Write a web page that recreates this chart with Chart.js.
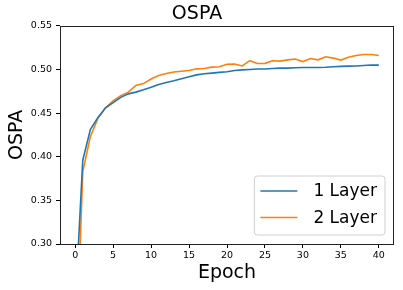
<!DOCTYPE html>
<html>
<head>
<meta charset="utf-8">
<script src="https://cdn.jsdelivr.net/npm/chart.js@4/dist/chart.umd.min.js"></script>
<style>
html,body{margin:0;padding:0;background:#fff;}
canvas{display:block;}
</style>
</head>
<body>
<canvas id="c" width="403" height="290"></canvas>
<script>
const epochs = [0,1,2,3,4,5,6,7,8,9,10,11,12,13,14,15,16,17,18,19,20,21,22,23,24,25,26,27,28,29,30,31,32,33,34,35,36,37,38,39,40];
const layer1 = [0.228,0.396,0.431,0.445,0.456,0.462,0.468,0.472,0.474,0.4766,0.4797,0.4828,0.485,0.487,0.4893,0.4916,0.4938,0.495,0.4958,0.4966,0.4973,0.4988,0.4995,0.5,0.5005,0.5005,0.501,0.5015,0.5015,0.502,0.5022,0.5022,0.5022,0.5025,0.503,0.5035,0.5038,0.504,0.5045,0.505,0.505];
const layer2 = [0.139,0.383,0.423,0.444,0.456,0.464,0.470,0.474,0.4816,0.4838,0.489,0.493,0.4954,0.497,0.498,0.4988,0.5007,0.501,0.5026,0.503,0.506,0.5063,0.504,0.510,0.5068,0.507,0.510,0.5095,0.511,0.512,0.509,0.5125,0.511,0.5145,0.513,0.5107,0.514,0.516,0.5171,0.5171,0.516];
const seriesLabels = ['1 Layer','2 Layer'];
const xTicks = [0,5,10,15,20,25,30,35,40];
const yTicks = [0.30,0.35,0.40,0.45,0.50,0.55];
const titleText = 'OSPA';
const xTitle = 'Epoch';
const yTitle = 'OSPA';

const FONT = "'DejaVu Sans', sans-serif";
const colors = ['#1f77b4','#ff7f0e'];

function pts(ys){ return epochs.map((e,i)=>({x:e,y:ys[i]})); }

const framePlugin = {
  id:'frame',
  afterDatasetsDraw(chart){
    const {ctx, chartArea:a} = chart;
    ctx.save();
    ctx.strokeStyle = '#222';
    ctx.lineWidth = 1;
    ctx.strokeRect(Math.round(a.left)+0.5, Math.round(a.top)+0.5, Math.round(a.right-a.left)-1, Math.round(a.bottom-a.top));
    ctx.restore();
  }
};

const legendPlugin = {
  id:'innerLegend',
  afterDraw(chart){
    const {ctx, chartArea:a} = chart;
    ctx.save();
    ctx.font = "17px " + FONT;
    const tw = Math.max(...chart.data.datasets.map(d=>ctx.measureText(d.label).width));
    const padL = 6, handle = 37, gap = 16, padR = 8;
    const rowH = 26.5;
    const w = padL + handle + gap + tw + padR;
    const h = 59;
    const x = a.right - 9 - w;
    const y = a.bottom - 9 - h;
    const r = 3;
    ctx.beginPath();
    ctx.moveTo(x+r,y); ctx.lineTo(x+w-r,y); ctx.quadraticCurveTo(x+w,y,x+w,y+r);
    ctx.lineTo(x+w,y+h-r); ctx.quadraticCurveTo(x+w,y+h,x+w-r,y+h);
    ctx.lineTo(x+r,y+h); ctx.quadraticCurveTo(x,y+h,x,y+h-r);
    ctx.lineTo(x,y+r); ctx.quadraticCurveTo(x,y,x+r,y);
    ctx.closePath();
    ctx.fillStyle = 'rgba(255,255,255,0.8)';
    ctx.fill();
    ctx.strokeStyle = '#d0d0d0';
    ctx.lineWidth = 1;
    ctx.stroke();
    chart.data.datasets.forEach((d,i)=>{
      const cy = y + 15 + i*rowH;
      ctx.strokeStyle = d.borderColor;
      ctx.lineWidth = 1.6;
      ctx.beginPath();
      ctx.moveTo(x+padL, cy); ctx.lineTo(x+padL+handle, cy);
      ctx.stroke();
      ctx.fillStyle = '#000';
      ctx.textBaseline = 'middle';
      ctx.textAlign = 'left';
      ctx.fillText(d.label, x+padL+handle+gap, cy+1);
    });
    ctx.restore();
  }
};

new Chart(document.getElementById('c'), {
  type:'line',
  data:{
    datasets:[
      {label:seriesLabels[0], data:pts(layer1), borderColor:colors[0], backgroundColor:colors[0], borderWidth:1.6, pointRadius:0, tension:0, fill:false},
      {label:seriesLabels[1], data:pts(layer2), borderColor:colors[1], backgroundColor:colors[1], borderWidth:1.6, pointRadius:0, tension:0, fill:false}
    ]
  },
  options:{
    responsive:false,
    animation:false,
    events:[],
    layout:{padding:{left:0,right:9,top:0,bottom:0}},
    plugins:{
      legend:{display:false},
      tooltip:{enabled:false},
      title:{display:true, text:titleText, color:'#000', font:{family:FONT, size:19, weight:'normal', lineHeight:1.2}, padding:{top:3,bottom:0}}
    },
    scales:{
      x:{
        type:'linear', min:-2, max:42,
        afterBuildTicks(s){ s.ticks = xTicks.map(v=>({value:v})); },
        afterFit(s){ s.height = 46; },
        ticks:{color:'#000', font:{family:FONT, size:9.5}, padding:2, maxRotation:0, autoSkip:false, callback:v=>String(v)},
        grid:{display:true, drawOnChartArea:false, drawTicks:true, tickLength:4, color:'#000', tickColor:'#000'},
        border:{display:false},
        title:{display:true, text:xTitle, color:'#000', font:{family:FONT, size:19, lineHeight:1.2}, padding:{top:0,bottom:6}}
      },
      y:{
        type:'linear', min:0.30, max:0.55,
        afterBuildTicks(s){ s.ticks = yTicks.map(v=>({value:v})); },
        afterFit(s){ s.width = 60; },
        ticks:{color:'#000', font:{family:FONT, size:9.5}, padding:4, autoSkip:false, callback:v=>Number(v).toFixed(2)},
        grid:{display:true, drawOnChartArea:false, drawTicks:true, tickLength:4, color:'#000', tickColor:'#000'},
        border:{display:false},
        title:{display:true, text:yTitle, color:'#000', font:{family:FONT, size:19, lineHeight:1.2}, padding:{top:6,bottom:0}}
      }
    }
  },
  plugins:[framePlugin, legendPlugin]
});
</script>
</body>
</html>
